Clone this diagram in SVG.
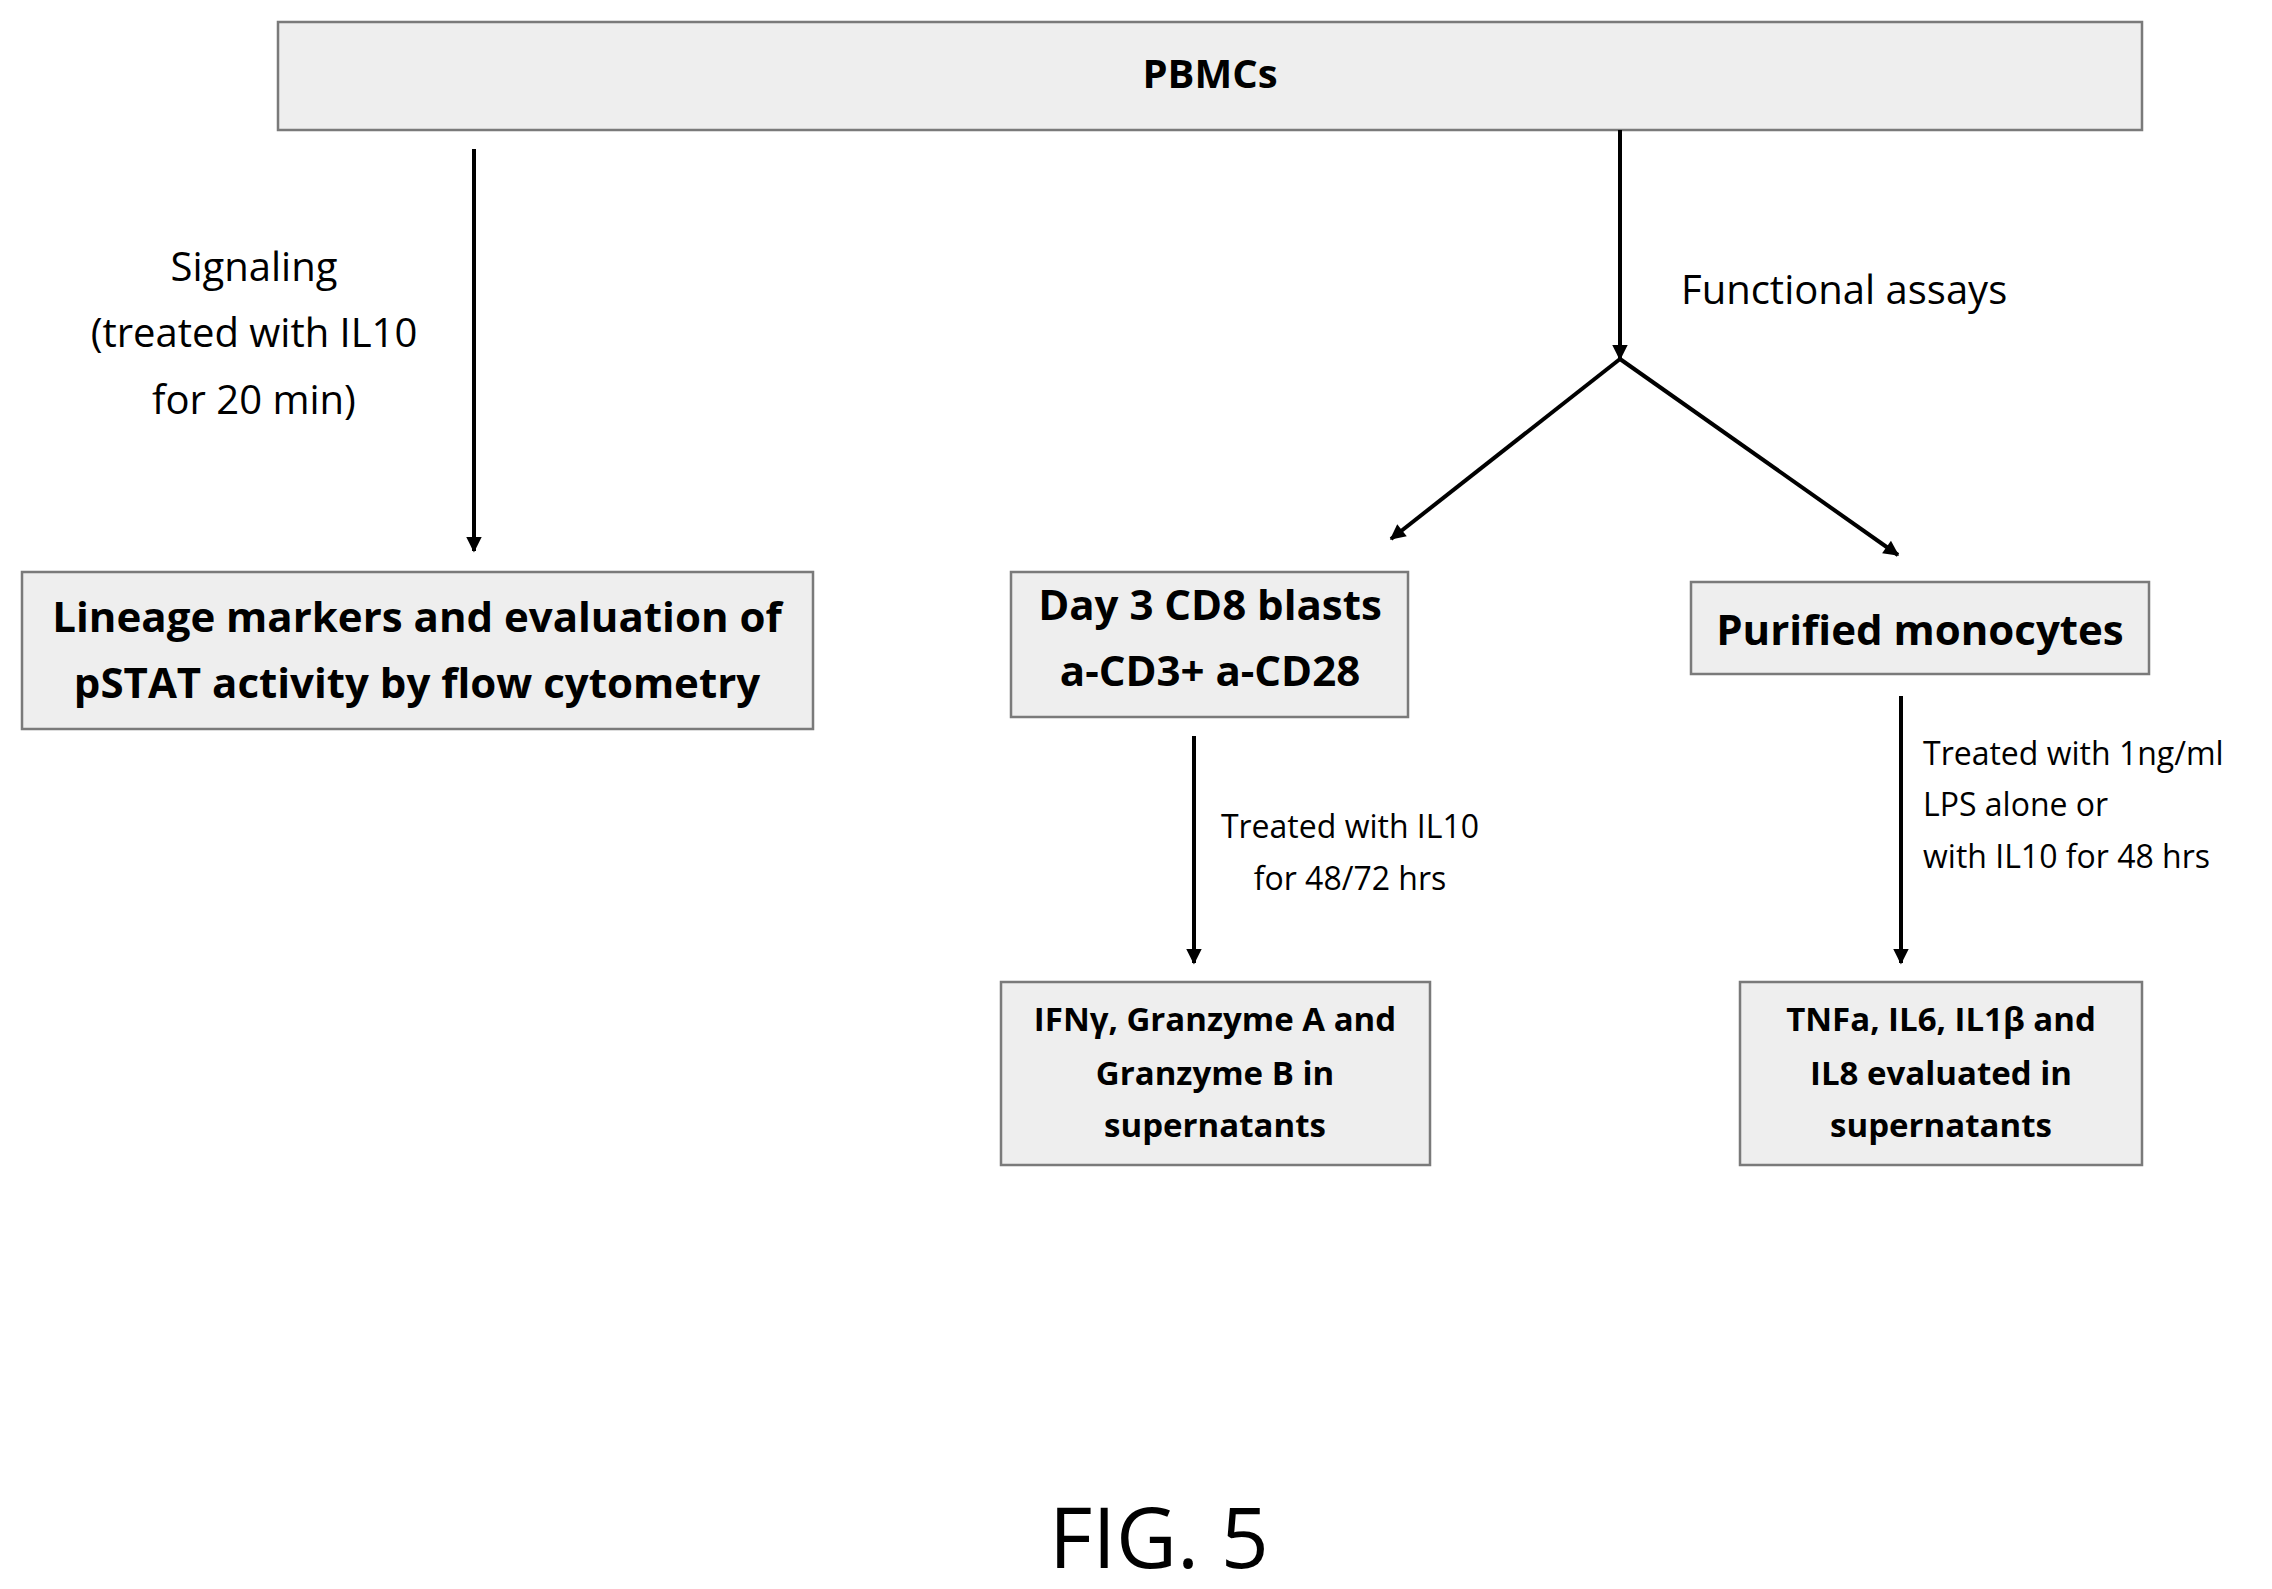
<svg xmlns="http://www.w3.org/2000/svg" width="2272" height="1589" viewBox="0 0 2272 1589">
<defs>
<marker id="ah" viewBox="0 0 10 10" refX="9" refY="5" markerWidth="7" markerHeight="7" orient="auto" markerUnits="userSpaceOnUse" style="overflow:visible"><path d="M0,0 L10,5 L0,10 z" fill="#000" transform="scale(2.2) translate(-5,-2.7)"/></marker>
<style>
.box{fill:#eeeeee;stroke:#7a7a7a;stroke-width:2.5}
.b{font-family:"Open Sans","DejaVu Sans",sans-serif;font-weight:bold;text-anchor:middle;fill:#000}
.n{font-family:"Open Sans","DejaVu Sans",sans-serif;fill:#000}
.c{stroke:#000;stroke-width:4;fill:none}
</style>
</defs>
<rect width="2272" height="1589" fill="#fff"/>
<g id="pbmcs"><rect class="box" x="278" y="22" width="1864" height="108"/><text class="b" x="1210" y="88" font-size="40">PBMCs</text></g>
<g id="lineage"><rect class="box" x="22" y="572" width="791" height="157"/><text class="b" x="417" y="632" font-size="42">Lineage markers and evaluation of</text><text class="b" x="417" y="698" font-size="42">pSTAT activity by flow cytometry</text></g>
<g id="day3"><rect class="box" x="1011" y="572" width="397" height="145"/><text class="b" x="1210" y="620" font-size="42">Day 3 CD8 blasts</text><text class="b" x="1210" y="686" font-size="42">a-CD3+ a-CD28</text></g>
<g id="mono"><rect class="box" x="1691" y="582" width="458" height="92"/><text class="b" x="1920" y="645" font-size="42">Purified monocytes</text></g>
<g id="ifn"><rect class="box" x="1001" y="982" width="429" height="183"/><text class="b" x="1215" y="1031" font-size="33">IFNγ, Granzyme A and</text><text class="b" x="1215" y="1085" font-size="33">Granzyme B in</text><text class="b" x="1215" y="1137" font-size="33">supernatants</text></g>
<g id="tnf"><rect class="box" x="1740" y="982" width="402" height="183"/><text class="b" x="1941" y="1031" font-size="33">TNFa, IL6, IL1β and</text><text class="b" x="1941" y="1085" font-size="33">IL8 evaluated in</text><text class="b" x="1941" y="1137" font-size="33">supernatants</text></g>
<g id="connectors">
<line class="c" x1="474" y1="149" x2="474" y2="551" marker-end="url(#ah)"/>
<line class="c" x1="1620" y1="130" x2="1620" y2="359" marker-end="url(#ah)"/>
<line class="c" x1="1620" y1="359" x2="1391" y2="539" marker-end="url(#ah)"/>
<line class="c" x1="1620" y1="359" x2="1898" y2="555" marker-end="url(#ah)"/>
<line class="c" x1="1194" y1="736" x2="1194" y2="963" marker-end="url(#ah)"/>
<line class="c" x1="1901" y1="696" x2="1901" y2="963" marker-end="url(#ah)"/>
</g>
<g id="labels">
<text class="n" x="254" y="281" font-size="40" text-anchor="middle">Signaling</text>
<text class="n" x="254" y="347" font-size="40" text-anchor="middle">(treated with IL10</text>
<text class="n" x="254" y="414" font-size="40" text-anchor="middle">for 20 min)</text>
<text class="n" x="1681" y="304" font-size="40">Functional assays</text>
<text class="n" x="1350" y="838" font-size="32" text-anchor="middle">Treated with IL10</text>
<text class="n" x="1350" y="890" font-size="32" text-anchor="middle">for 48/72 hrs</text>
<text class="n" x="1923" y="765" font-size="32">Treated with 1ng/ml</text>
<text class="n" x="1923" y="816" font-size="32">LPS alone or</text>
<text class="n" x="1923" y="868" font-size="32">with IL10 for 48 hrs</text>
<text class="n" x="1159" y="1568" font-size="84" text-anchor="middle">FIG. 5</text>
</g>
</svg>
